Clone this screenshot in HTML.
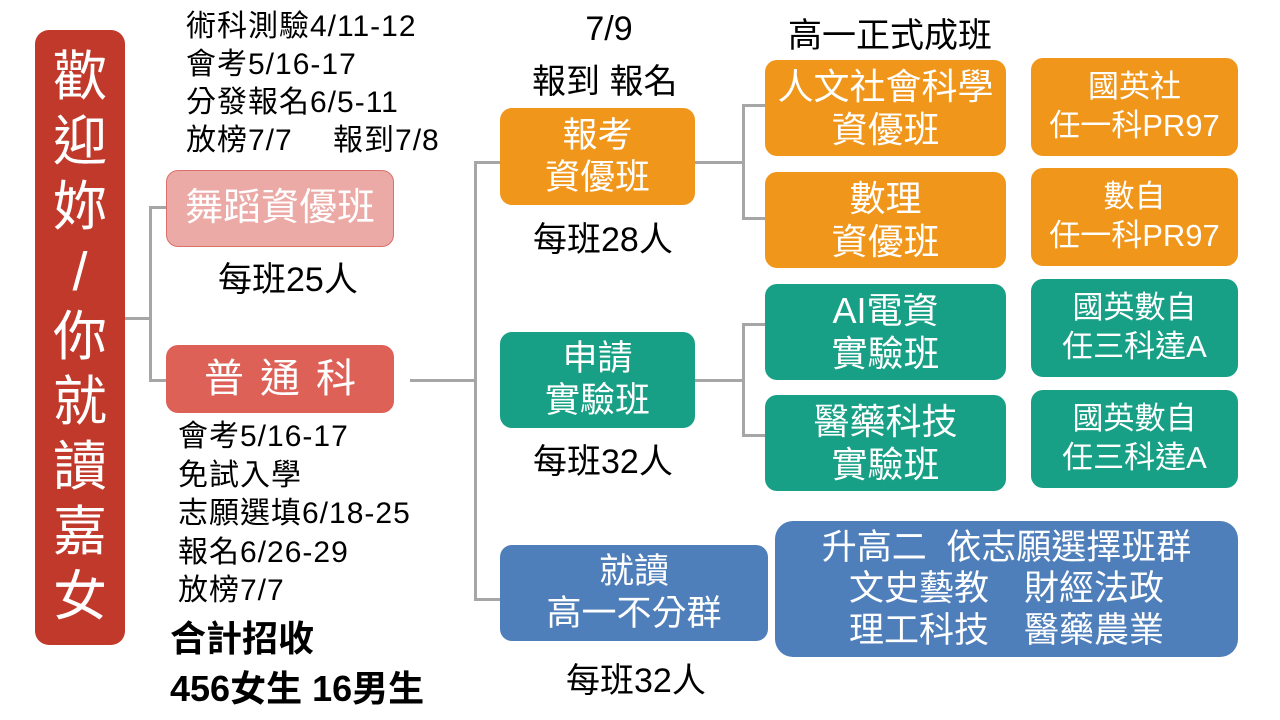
<!DOCTYPE html>
<html><head><meta charset="utf-8"><style>
body{margin:0;width:1280px;height:720px;background:#fff;position:relative;overflow:hidden;font-family:"Liberation Sans","Noto Sans CJK TC",sans-serif}
.b{position:absolute;border-radius:12px;color:#fff;display:flex;flex-direction:column;align-items:center;justify-content:center;text-align:center;line-height:1.2;white-space:nowrap}
.t{position:absolute;color:#000;white-space:nowrap}
.l{position:absolute;background:#a6a6a6}
.o{background:#F0961A}.g{background:#17A085}.bl{background:#4F7FBA}
</style></head><body>
<div class="b" style="left:35px;top:30px;width:90px;height:615px;background:#C0392B;font-size:54px;line-height:65px;border-radius:14px">歡<br>迎<br>妳<br>/<br>你<br>就<br>讀<br>嘉<br>女</div>
<div class="t" style="left:186px;top:8px;font-size:30px;line-height:38px;letter-spacing:1px">術科測驗4/11-12<br>會考5/16-17<br>分發報名6/5-11<br>放榜7/7　 報到7/8</div>
<div class="b" style="left:166px;top:170px;width:226px;height:75px;background:#EBAAA6;border:1px solid #D9706A;font-size:38px">舞蹈資優班</div>
<div class="t" style="left:218px;top:252px;font-size:34px">每班25人</div>
<div class="b" style="left:166px;top:345px;width:228px;height:68px;background:#DE6158;font-size:40px;letter-spacing:16px;padding-left:16px;box-sizing:border-box">普通科</div>
<div class="t" style="left:178px;top:418px;font-size:30px;line-height:38.5px;letter-spacing:1px">會考5/16-17<br>免試入學<br>志願選填6/18-25<br>報名6/26-29<br>放榜7/7</div>
<div class="t" style="left:170px;top:614px;font-size:36px;font-weight:bold;line-height:50px">合計招收<br>456女生 16男生</div>
<div class="l" style="left:125px;top:317px;width:26px;height:3px"></div>
<div class="l" style="left:149px;top:206px;width:3px;height:176px"></div>
<div class="l" style="left:149px;top:206px;width:17px;height:3px"></div>
<div class="l" style="left:149px;top:379px;width:17px;height:3px"></div>
<div class="l" style="left:410px;top:379px;width:66px;height:3px"></div>
<div class="l" style="left:474px;top:161px;width:3px;height:440px"></div>
<div class="l" style="left:474px;top:161px;width:26px;height:3px"></div>
<div class="l" style="left:474px;top:598px;width:26px;height:3px"></div>
<div class="t" style="left:570px;top:10px;font-size:34px;text-align:center;width:78px">7/9</div>
<div class="t" style="left:532px;top:54px;font-size:34px">報到 報名</div>
<div class="t" style="left:788px;top:8px;font-size:34px">高一正式成班</div>
<div class="b o" style="left:500px;top:108px;width:195px;height:97px;font-size:35px">報考<br>資優班</div>
<div class="t" style="left:533px;top:212px;font-size:34px">每班28人</div>
<div class="b g" style="left:500px;top:332px;width:195px;height:96px;font-size:35px">申請<br>實驗班</div>
<div class="t" style="left:533px;top:434px;font-size:34px">每班32人</div>
<div class="b bl" style="left:500px;top:545px;width:268px;height:96px;font-size:35px">就讀<br>高一不分群</div>
<div class="t" style="left:566px;top:653px;font-size:34px">每班32人</div>
<div class="l" style="left:695px;top:161px;width:50px;height:3px"></div>
<div class="l" style="left:742px;top:104px;width:3px;height:116px"></div>
<div class="l" style="left:742px;top:104px;width:23px;height:3px"></div>
<div class="l" style="left:742px;top:217px;width:23px;height:3px"></div>
<div class="l" style="left:695px;top:379px;width:50px;height:3px"></div>
<div class="l" style="left:742px;top:323px;width:3px;height:114px"></div>
<div class="l" style="left:742px;top:323px;width:23px;height:3px"></div>
<div class="l" style="left:742px;top:434px;width:23px;height:3px"></div>
<div class="b o" style="left:765px;top:60px;width:241px;height:96px;font-size:36px">人文社會科學<br>資優班</div>
<div class="b o" style="left:765px;top:172px;width:241px;height:96px;font-size:36px">數理<br>資優班</div>
<div class="b g" style="left:765px;top:284px;width:241px;height:96px;font-size:36px">AI電資<br>實驗班</div>
<div class="b g" style="left:765px;top:395px;width:241px;height:96px;font-size:36px">醫藥科技<br>實驗班</div>
<div class="b o" style="left:1031px;top:58px;width:207px;height:98px;font-size:31px;line-height:1.25">國英社<br>任一科PR97</div>
<div class="b o" style="left:1031px;top:168px;width:207px;height:98px;font-size:31px;line-height:1.25">數自<br>任一科PR97</div>
<div class="b g" style="left:1031px;top:279px;width:207px;height:98px;font-size:31px;line-height:1.25">國英數自<br>任三科達A</div>
<div class="b g" style="left:1031px;top:390px;width:207px;height:98px;font-size:31px;line-height:1.25">國英數自<br>任三科達A</div>
<div class="b bl" style="left:775px;top:521px;width:463px;height:136px;font-size:35px;border-radius:18px;line-height:1.18">升高二&nbsp; 依志願選擇班群<br>文史藝教　財經法政<br>理工科技　醫藥農業</div>
</body></html>
